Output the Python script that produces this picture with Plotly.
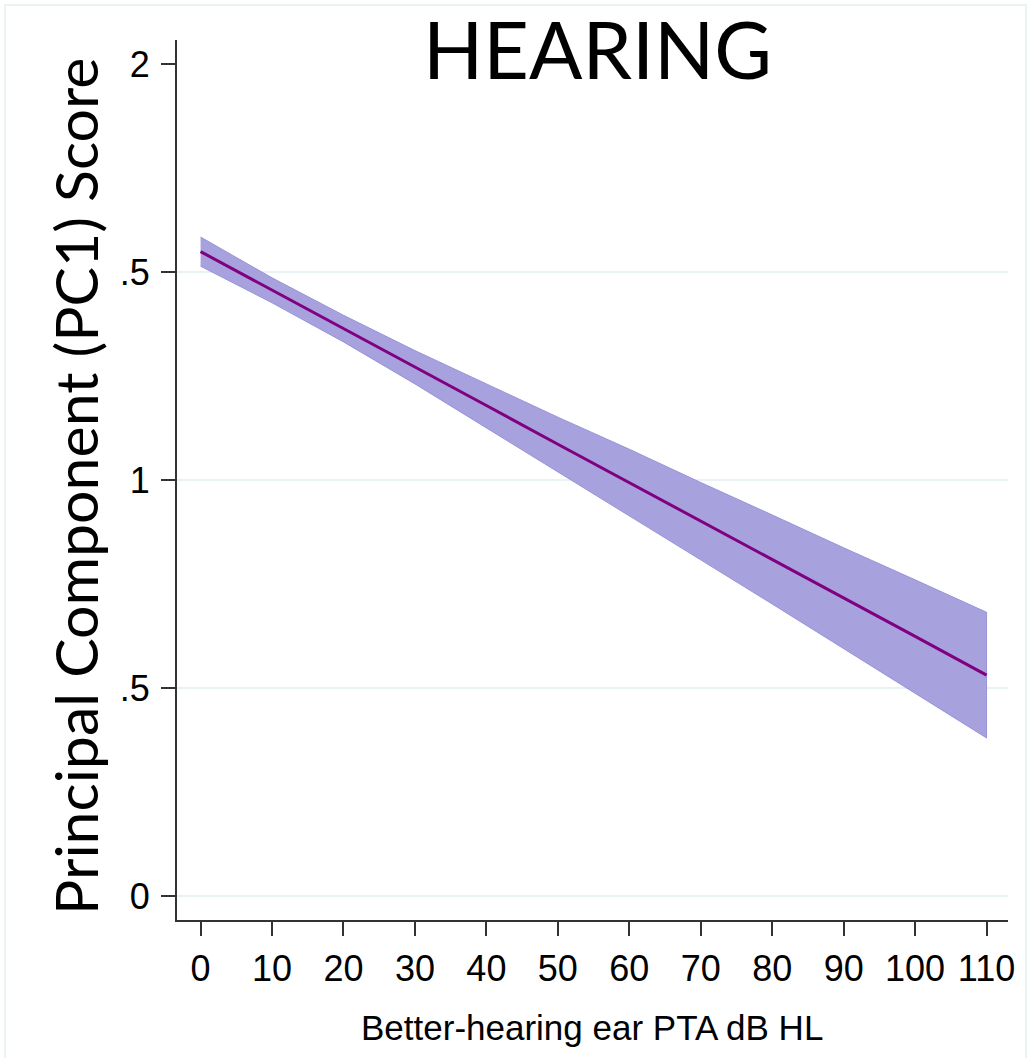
import plotly.graph_objects as go

# Predicted PC1 score by better-hearing ear PTA, with 95% confidence band
pta_db = [0, 10, 20, 30, 40, 50, 60, 70, 80, 90, 100, 110]
pc1_fit = [1.549, 1.456, 1.364, 1.271, 1.179, 1.086, 0.994, 0.901, 0.809, 0.716, 0.624, 0.531]
pc1_upper = [1.584, 1.486, 1.396, 1.311, 1.231, 1.151, 1.074, 0.994, 0.916, 0.837, 0.760, 0.682]
pc1_lower = [1.514, 1.426, 1.332, 1.231, 1.127, 1.021, 0.914, 0.808, 0.702, 0.595, 0.488, 0.380]

x_ticks = [0, 10, 20, 30, 40, 50, 60, 70, 80, 90, 100, 110]
y_ticks = [0, 0.5, 1, 1.5, 2]
y_ticktext = ["0", ".5", "1", ".5", "2"]
grid_levels = [0, 0.5, 1, 1.5]

AXIS_FONT = "Liberation Sans, Arial, sans-serif"
TITLE_FONT = "Lato, Open Sans, sans-serif"
GRID_COLOR = "rgb(234,242,243)"

fig = go.Figure()

# confidence band as a closed polygon
fig.add_trace(go.Scatter(
    x=pta_db + pta_db[::-1],
    y=pc1_upper + pc1_lower[::-1],
    fill="toself",
    fillcolor="rgb(167,162,222)",
    line=dict(color="rgb(152,147,216)", width=1),
    mode="lines",
    hoverinfo="skip",
    showlegend=False,
))

# fitted line
fig.add_trace(go.Scatter(
    x=pta_db,
    y=pc1_fit,
    mode="lines",
    line=dict(color="rgb(128,0,128)", width=3),
    showlegend=False,
))

shapes = []
for g in grid_levels:
    shapes.append(dict(type="line", xref="paper", x0=0, x1=1, yref="y", y0=g, y1=g,
                       line=dict(color=GRID_COLOR, width=2), layer="below"))
# light outer frame of the graph region
shapes.append(dict(type="rect", xref="paper", yref="paper",
                   x0=-0.207, x1=1.0217, y0=-0.175, y1=1.0398,
                   line=dict(color=GRID_COLOR, width=2), layer="below"))

fig.update_layout(
    width=1030,
    height=1058,
    margin=dict(l=177, r=22, t=40, b=138),
    paper_bgcolor="white",
    plot_bgcolor="white",
    shapes=shapes,
    xaxis=dict(
        range=[-3.3, 113.0],
        tickvals=x_ticks,
        ticks="outside",
        ticklen=14,
        tickwidth=2,
        tickcolor="#333333",
        showline=True,
        linecolor="#333333",
        linewidth=2,
        showgrid=False,
        zeroline=False,
        tickfont=dict(family=AXIS_FONT, size=36, color="#000000"),
        ticklabelstandoff=2,
    ),
    yaxis=dict(
        range=[-0.0577, 2.0577],
        tickvals=y_ticks,
        ticktext=y_ticktext,
        ticks="outside",
        ticklen=14,
        tickwidth=2,
        tickcolor="#333333",
        showline=True,
        linecolor="#333333",
        linewidth=2,
        showgrid=False,
        zeroline=False,
        tickfont=dict(family=AXIS_FONT, size=36, color="#000000"),
        ticklabelstandoff=4,
    ),
    annotations=[
        dict(text="HEARING", xref="paper", yref="paper", x=0.5066, y=0.9906,
             xanchor="center", yanchor="middle", showarrow=False,
             font=dict(family=TITLE_FONT, size=79, color="black")),
        dict(text="Principal Component (PC1) Score", xref="paper", yref="paper",
             x=-0.123, y=0.493, xanchor="center", yanchor="middle", textangle=-90,
             showarrow=False, font=dict(family=TITLE_FONT, size=59, color="black")),
        dict(text="Better-hearing ear PTA dB HL", xref="paper", yref="paper",
             x=0.4988, y=-0.1216, xanchor="center", yanchor="middle", showarrow=False,
             font=dict(family=AXIS_FONT, size=35, color="#000000")),
    ],
)

fig.write_html("out.html")
